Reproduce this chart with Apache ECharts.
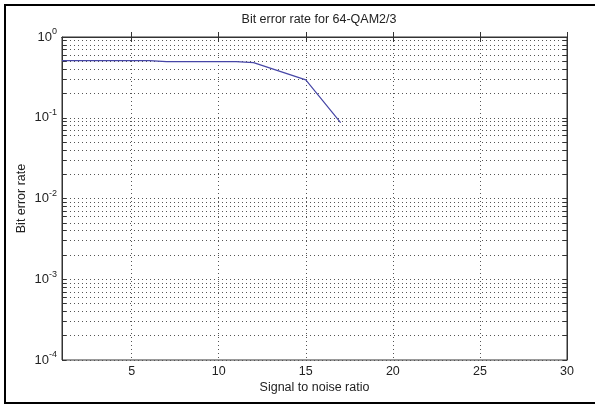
<!DOCTYPE html>
<html>
<head>
<meta charset="utf-8">
<script src="https://cdn.jsdelivr.net/npm/echarts@6/dist/echarts.min.js"></script>
<style>
  html, body { margin: 0; padding: 0; background: #fff; }
  #chart { width: 595px; height: 406px; }
</style>
</head>
<body>
<div id="chart"></div>
<script>
// values (only the visible corners of the curve)
const snr = [1, 6, 7, 11, 12, 15, 17];
const ber = [0.51, 0.51, 0.495, 0.495, 0.481, 0.294, 0.087];
const xTicks = [5, 10, 15, 20, 25, 30];
const decades = [-4, -3, -2, -1, 0];

// matlab style log grid: 1..9 x 10^k, kept as exponents for a plain value axis
let logGrid = [];
decades.forEach(function (d) {
  if (d === 0) { logGrid.push(0); return; }
  for (let m = 1; m <= 9; m++) logGrid.push(d + Math.log10(m));
});

const supLabel = function (v) {
  const e = Math.round(Math.log10(v));
  return "{b|10}{s|" + e + "}";
};

const tickStyle = { color: "#333" };

const chart = echarts.init(document.getElementById("chart"));
chart.setOption({
  animation: false,
  textStyle: { fontFamily: "Liberation Sans, Arial, sans-serif" },
  graphic: [
    {
      type: "rect",
      shape: { x: 5, y: 5, width: 600, height: 398 },
      style: { fill: "none", stroke: "#000", lineWidth: 2 },
    },
  ],
  title: {
    text: "Bit error rate for 64-QAM2/3",
    left: 314,
    top: 8,
    textAlign: "center",
    textStyle: { fontSize: 12.5, fontWeight: "normal", color: "#222" },
  },
  grid: { left: 62, top: 37, right: 28, bottom: 46, show: true, borderColor: "#333", borderWidth: 1 },
  xAxis: [
    {
      type: "value",
      min: 1,
      max: 30,
      position: "bottom",
      name: "Signal to noise ratio",
      nameLocation: "middle",
      nameGap: 21,
      nameMoveOverlap: false,
      nameTextStyle: { fontSize: 12.5, color: "#222" },
      axisLine: { lineStyle: tickStyle },
      axisTick: { inside: true, length: 5, lineStyle: tickStyle, customValues: xTicks },
      axisLabel: { fontSize: 12.5, color: "#222", margin: 5, customValues: xTicks },
      splitLine: { show: true, lineStyle: { color: "#555", type: [1, 3] } },
    },
    {
      type: "value",
      min: 1,
      max: 30,
      position: "top",
      axisLine: { lineStyle: tickStyle },
      axisTick: { inside: true, length: 5, lineStyle: tickStyle, customValues: xTicks },
      axisLabel: { show: false, customValues: xTicks },
      splitLine: { show: false },
    },
  ],
  yAxis: [
    {
      type: "log",
      logBase: 10,
      min: 1e-4,
      max: 1,
      name: "Bit error rate",
      nameLocation: "middle",
      nameGap: 34,
      nameMoveOverlap: false,
      nameTextStyle: { fontSize: 12.5, color: "#222" },
      axisLine: { lineStyle: tickStyle },
      axisTick: { show: false },
      axisLabel: {
        color: "#222",
        margin: 5,
        formatter: supLabel,
        rich: {
          b: { fontSize: 13, color: "#222" },
          s: { fontSize: 9, color: "#222", verticalAlign: "top", padding: [0, 0, 10, 0] },
        },
      },
      splitLine: { show: false },
    },
    {
      // grid and minor ticks in exponent space, left side
      type: "value",
      min: -4,
      max: 0,
      position: "left",
      axisLine: { show: false },
      axisTick: { inside: true, length: 4, lineStyle: tickStyle, customValues: logGrid },
      axisLabel: { show: false, customValues: logGrid },
      splitLine: { show: true, lineStyle: { color: "#555", type: [1, 3] } },
    },
    {
      type: "value",
      min: -4,
      max: 0,
      position: "right",
      axisLine: { show: true, lineStyle: tickStyle },
      axisTick: { inside: true, length: 4, lineStyle: tickStyle, customValues: logGrid },
      axisLabel: { show: false, customValues: logGrid },
      splitLine: { show: false },
    },
  ],
  series: [
    {
      type: "line",
      yAxisIndex: 0,
      data: snr.map(function (x, i) { return [x, ber[i]]; }),
      showSymbol: false,
      lineStyle: { color: "#4646a6", width: 1.2 },
      z: 5,
    },
  ],
});
</script>
</body>
</html>
